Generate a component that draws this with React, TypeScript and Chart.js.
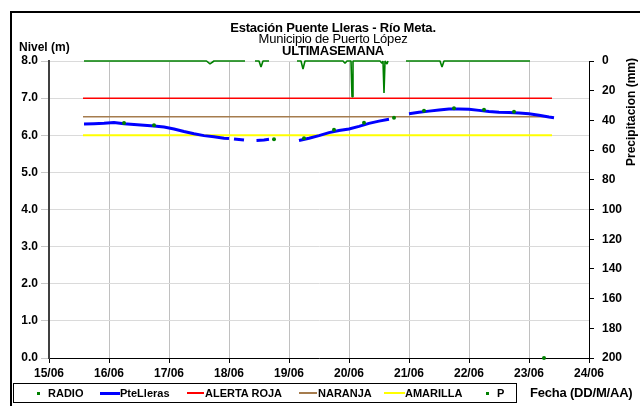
import React, { useEffect, useRef } from 'react';
import { Chart, registerables } from 'chart.js';

Chart.register(...registerables);

// ---- Data (hours counted from 15/06 00:00) ----
const dayLabels = ['15/06', '16/06', '17/06', '18/06', '19/06', '20/06', '21/06', '22/06', '23/06', '24/06'];

const levelHours = [14, 18, 22, 26, 30, 34, 38, 42, 46, 50, 54, 58, 62, 66, 70, 72, 73, 74, 78, 80, 83, 86, 88, 90,
  100, 104, 108, 112, 116, 120, 124, 128, 132, 136, 138, 144, 148, 152, 156, 160, 164, 168, 172, 176, 180, 184, 188, 192, 196, 200, 202];
const levelValues = [6.30, 6.31, 6.32, 6.34, 6.31, 6.29, 6.27, 6.25, 6.22, 6.17, 6.10, 6.04, 5.99, 5.96, 5.92, 5.91, null, 5.90, 5.87, null, 5.86, 5.87, 5.89, null,
  5.86, 5.92, 5.99, 6.07, 6.13, 6.17, 6.24, 6.32, 6.38, 6.43, null, 6.58, 6.62, 6.65, 6.68, 6.71, 6.71, 6.70, 6.67, 6.64, 6.62, 6.61, 6.60, 6.58, 6.54, 6.49, 6.47];

const radioHours = [30, 42, 90, 102, 114, 126, 138, 150, 162, 174, 186, 198];
const radioValues = [6.33, 6.27, 5.89, 5.92, 6.15, 6.34, 6.47, 6.66, 6.73, 6.69, 6.63, 0];

const pHours = [14, 63, 64.4, 66, 78.4, 79, 82.4, 84, 84.8, 85.6, 88, 89, 99.2, 100.8, 101.6, 102.4, 117.6, 118.4, 119.2, 120.8, 121.2, 121.6,
  132.4, 133.2, 133.6, 134, 134.4, 135.2, 135.6, 136, 142.8, 156.4, 157.2, 158, 192.4];
const pValues = [0, 0, 2, 0, 0, null, 0, 0, 4, 0, 0, null, 0, 0, 5.5, 0, 0, 1.5, 0, 0, 24, 0,
  0, 1.5, 0, 21.5, 0, 2, 0, null, 0, 0, 4, 0, 0];

const thresholdHours = [13.6, 201.2];
const alertaRoja = [7.0, 7.0];
const alertaNaranja = [6.5, 6.5];
const alertaAmarilla = [6.0, 6.0];

const leftTicks = [0, 1, 2, 3, 4, 5, 6, 7, 8];
const rightTicks = [0, 20, 40, 60, 80, 100, 120, 140, 160, 180, 200];

const FONT = '"Liberation Sans", Arial, Helvetica, sans-serif';

const toPts = (hs: number[], vs: (number | null)[]) => hs.map((h, i) => ({ x: h, y: vs[i] }));

export default function App() {
  const ref = useRef<HTMLCanvasElement>(null);

  useEffect(() => {
    const canvas = ref.current;
    if (!canvas) return;
    const tickFont = { family: FONT, size: 12, weight: 'bold' as const };
    const chart = new Chart(canvas, {
      type: 'line',
      data: {
        datasets: [
          {
            label: 'RADIO', data: toPts(radioHours, radioValues), showLine: false, pointRadius: 2,
            pointBackgroundColor: '#008000', pointBorderWidth: 0, yAxisID: 'y', order: 0, clip: false as any,
          },
          {
            label: 'PteLleras', data: toPts(levelHours, levelValues), borderColor: '#0000ff', borderWidth: 3,
            pointRadius: 0, spanGaps: false, yAxisID: 'y', order: 1,
          },
          {
            label: 'P', data: toPts(pHours, pValues), borderColor: '#008000', borderWidth: 1.6,
            borderJoinStyle: 'bevel', pointRadius: 0, spanGaps: false, yAxisID: 'y2', order: 2, clip: false as any,
          },
          {
            label: 'ALERTA ROJA', data: toPts(thresholdHours, alertaRoja), borderColor: '#ff0000', borderWidth: 1.5,
            pointRadius: 0, yAxisID: 'y', order: 3,
          },
          {
            label: 'NARANJA', data: toPts(thresholdHours, alertaNaranja), borderColor: '#a57c4e', borderWidth: 1.5,
            pointRadius: 0, yAxisID: 'y', order: 4,
          },
          {
            label: 'AMARILLA', data: toPts(thresholdHours, alertaAmarilla), borderColor: '#ffff00', borderWidth: 2,
            pointRadius: 0, yAxisID: 'y', order: 5,
          },
        ],
      },
      options: {
        responsive: false,
        animation: false,
        devicePixelRatio: 1,
        layout: { padding: { top: 61, left: 0, right: 0, bottom: 0 } },
        plugins: { legend: { display: false }, tooltip: { enabled: false }, title: { display: false } },
        scales: {
          x: {
            type: 'linear', min: 0, max: 216,
            afterBuildTicks: (s: any) => { s.ticks = dayLabels.map((_, i) => ({ value: i * 24 })); },
            ticks: {
              callback: (v: any) => dayLabels[Math.round(Number(v) / 24)],
              font: tickFont, color: '#000', maxRotation: 0, autoSkip: false, padding: 3,
            },
            grid: { color: '#c0c0c0', tickColor: '#000', tickLength: 5, lineWidth: 1 },
            border: { color: '#000', width: 1 },
            afterFit: (s: any) => { s.height = 48; },
          },
          y: {
            position: 'left', min: 0, max: 8,
            afterBuildTicks: (s: any) => { s.ticks = leftTicks.map((v) => ({ value: v })); },
            ticks: { callback: (v: any) => Number(v).toFixed(1), font: tickFont, color: '#000', padding: 3 },
            grid: { color: '#dadada', tickColor: '#c8c8c8', tickLength: 8 },
            border: { color: '#404040', width: 2 },
            afterFit: (s: any) => { s.width = 49; },
          },
          y2: {
            position: 'right', min: 0, max: 200, reverse: true,
            afterBuildTicks: (s: any) => { s.ticks = rightTicks.map((v) => ({ value: v })); },
            ticks: { font: tickFont, color: '#000', padding: 8 },
            grid: { drawOnChartArea: false, tickColor: '#000', tickLength: 5 },
            border: { color: '#000', width: 1 },
            afterFit: (s: any) => { s.width = 51; },
          },
        },
      } as any,
    });
    return () => chart.destroy();
  }, []);

  const abs = (o: React.CSSProperties): React.CSSProperties => ({ position: 'absolute', whiteSpace: 'nowrap', fontFamily: FONT, color: '#000', ...o });
  const legendLine = (x1: number, x2: number, color: string, h: number) => (
    <div style={{ position: 'absolute', left: x1, top: 393 - h / 2, width: x2 - x1, height: h, background: color }} />
  );
  const legendDot = (cx: number) => (
    <div style={{ position: 'absolute', left: cx - 1.5, top: 391.5, width: 3, height: 3, background: '#008000' }} />
  );
  const legendText = (x: number, t: string) => (
    <div style={abs({ left: x, top: 386, fontSize: 11, fontWeight: 'bold', lineHeight: '14px' })}>{t}</div>
  );

  return (
    <div style={{ position: 'fixed', left: 0, top: 0, width: 640, height: 406, background: '#fff', overflow: 'hidden' }}>
      <canvas ref={ref} width={640} height={406} style={{ position: 'absolute', left: 0, top: 0, width: 640, height: 406 }} />
      {/* outer frame */}
      <div style={{ position: 'absolute', left: 10, top: 11, width: 640, height: 400, borderLeft: '2px solid #000', borderTop: '2px solid #000' }} />
      {/* titles */}
      <div style={abs({ left: 0, width: 666, top: 22, textAlign: 'center', fontSize: 13, fontWeight: 'bold', lineHeight: '12px', letterSpacing: '-0.2px' })}>Estación Puente Lleras - Río Meta.</div>
      <div style={abs({ left: 0, width: 666, top: 33, textAlign: 'center', fontSize: 13, lineHeight: '12px', letterSpacing: '-0.2px' })}>Municipio de Puerto López</div>
      <div style={abs({ left: 0, width: 666, top: 45, textAlign: 'center', fontSize: 13, fontWeight: 'bold', lineHeight: '12px', letterSpacing: '-0.2px' })}>ULTIMASEMANA</div>
      <div style={abs({ left: 19, top: 40, fontSize: 12, fontWeight: 'bold', lineHeight: '14px' })}>Nivel (m)</div>
      <div style={abs({ left: 631, top: 112, fontSize: 12, fontWeight: 'bold', lineHeight: '14px', transform: 'translate(-50%, -50%) rotate(-90deg)' })}>Precipitacion (mm)</div>
      {/* legend */}
      <div style={{ position: 'absolute', left: 13, top: 383, width: 504, height: 20, border: '1px solid #000', boxSizing: 'border-box' }} />
      {legendDot(38)}
      {legendText(48, 'RADIO')}
      {legendLine(100, 120, '#0000ff', 3)}
      {legendText(120, 'PteLleras')}
      {legendLine(187, 204, '#ff0000', 2)}
      {legendText(205, 'ALERTA ROJA')}
      {legendLine(299, 317, '#a57c4e', 2)}
      {legendText(318, 'NARANJA')}
      {legendLine(384, 405, '#ffff00', 2)}
      {legendText(405, 'AMARILLA')}
      {legendDot(487)}
      {legendText(497, 'P')}
      <div style={abs({ left: 530, top: 385, fontSize: 13, fontWeight: 'bold', lineHeight: '16px', letterSpacing: '-0.2px' })}>Fecha (DD/M/AA)</div>
    </div>
  );
}
